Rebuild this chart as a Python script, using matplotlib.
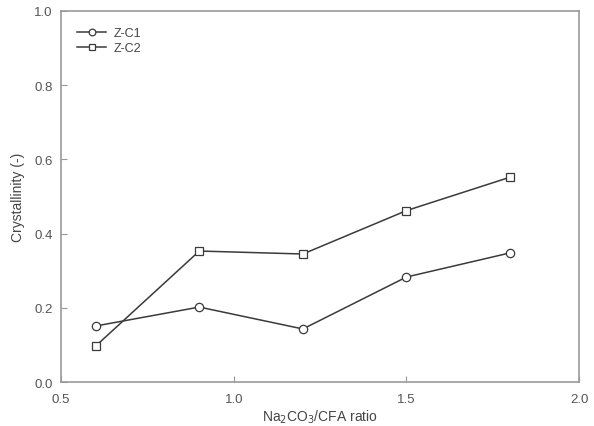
import matplotlib.pyplot as plt

plt.rcParams["font.family"] = ["Liberation Sans", "DejaVu Sans"]

ratio = [0.6, 0.9, 1.2, 1.5, 1.8]
zc1 = [0.151, 0.202, 0.143, 0.283, 0.348]
zc2 = [0.097, 0.353, 0.345, 0.462, 0.552]

fig = plt.figure(figsize=(5.94, 4.27), dpi=100)
ax = fig.add_axes([0.103, 0.103, 0.872, 0.869])

line_col = "#3a3a3a"
ax.plot(ratio, zc1, "-o", color=line_col, lw=1.1, ms=6, mfc="white",
        mec=line_col, mew=0.9, label="Z-C1")
ax.plot(ratio, zc2, "-s", color=line_col, lw=1.1, ms=6, mfc="white",
        mec=line_col, mew=0.9, label="Z-C2")

ax.set_xlim(0.5, 2.0)
ax.set_ylim(0.0, 1.0)
ax.set_xticks([0.5, 1.0, 1.5, 2.0])
ax.set_yticks([0.0, 0.2, 0.4, 0.6, 0.8, 1.0])
ax.xaxis.set_major_formatter(plt.FormatStrFormatter("%.1f"))
ax.yaxis.set_major_formatter(plt.FormatStrFormatter("%.1f"))

for sp in ax.spines.values():
    sp.set_color("#999999")
    sp.set_linewidth(1.2)
ax.tick_params(direction="in", length=4, width=0.8, colors="#999999",
               labelcolor="#555555", labelsize=9.5, pad=6)
ax.tick_params(axis="x", pad=8)

ax.set_ylabel("Crystallinity (-)", fontsize=10, color="#444444", labelpad=7)
ax.set_xlabel("Na$_2$CO$_3$/CFA ratio", fontsize=10, color="#444444",
              labelpad=2)

ax.legend(loc="upper left", frameon=False, fontsize=9, handlelength=2.3,
          handletextpad=0.6, labelspacing=0.25, borderaxespad=0.9,
          markerscale=0.8, labelcolor="#444444")

fig.savefig("out.png", dpi=100)
